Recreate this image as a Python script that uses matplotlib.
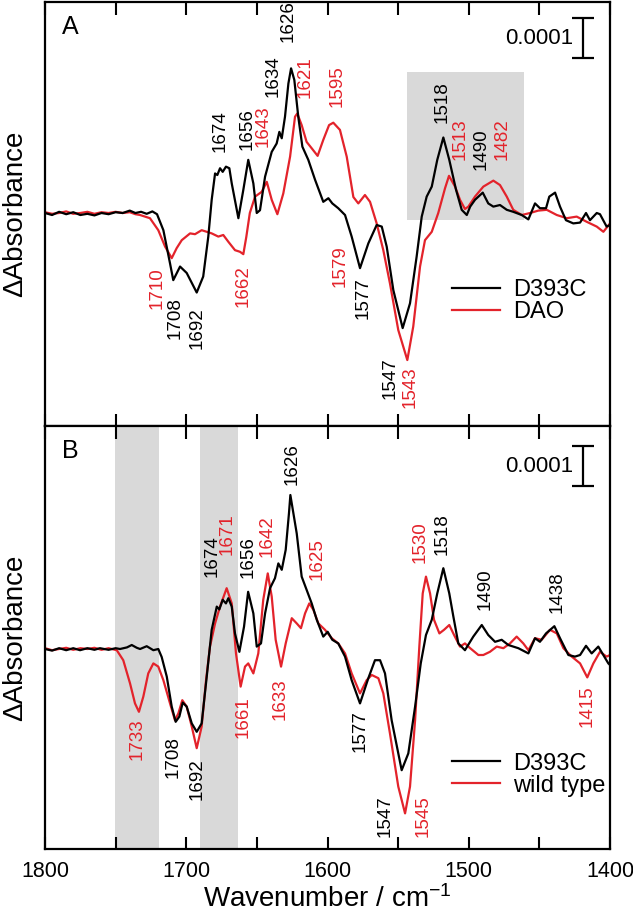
import numpy as np
import matplotlib.pyplot as plt

plt.rcParams['font.family'] = ['Liberation Sans', 'DejaVu Sans']
plt.rcParams['mathtext.default'] = 'regular'

RED = '#e3232b'
GRAY = '#d9d9d9'

# difference spectra, values in units of 1e-4 absorbance
a_wn_d393c = [1800, 1795, 1790, 1785, 1780, 1775, 1770, 1765, 1760, 1755, 1750, 1745, 1740, 1736,
              1732, 1728, 1724, 1720.7, 1716.2, 1711.5, 1709.2, 1704.4, 1699.7, 1692.6, 1688, 1684.4,
              1682, 1679.6, 1678, 1676.1, 1674.2, 1671.9, 1669.5, 1667.8, 1663.1, 1659.6, 1656.1,
              1652.5, 1650.1, 1647.8, 1644.2, 1639.5, 1636, 1634.1, 1632.4, 1630.1, 1627.7, 1625.8,
              1623.5, 1620.7, 1617.8, 1613.6, 1608.8, 1603, 1599.4, 1596.6, 1592.4, 1587.6, 1582.9,
              1577, 1571.1, 1565.2, 1561.6, 1558.1, 1553.4, 1546.8, 1541.6, 1536.9, 1533.3, 1529.8,
              1526.2, 1522.3, 1518, 1513.8, 1509, 1505, 1501.4, 1499, 1495.6, 1490.1, 1486.2, 1482.6,
              1477.9, 1473.1, 1468.5, 1462.5, 1457.8, 1453.1, 1449.6, 1445.3, 1443, 1438.9, 1435.4,
              1431.2, 1426, 1421.2, 1417, 1414.2, 1409.4, 1407.1, 1402.4, 1400]
a_d393c = [0.0, -0.05, 0.03, -0.03, 0.02, -0.05, -0.02, -0.06, 0.0, -0.03, 0.02, 0.0, 0.06, 0.0,
           0.03, -0.02, 0.04, -0.03, -0.43, -1.26, -1.68, -1.34, -1.5, -1.99, -1.59, -0.59,
           0.33, 0.99, 0.95, 1.12, 1.03, 1.16, 1.12, 0.74, -0.13, 0.58, 1.33,
           0.74, 0.0, 0.07, 0.91, 1.53, 1.74, 2.03, 1.87, 2.41, 3.24, 3.62,
           3.33, 2.41, 1.66, 1.33, 0.83, 0.28, 0.37, 0.24, 0.12, -0.05, -0.59,
           -1.38, -0.76, -0.3, -0.34, -0.84, -1.93, -2.88, -2.26, -1.09, -0.09, 0.41,
           0.66, 1.33, 1.89, 1.33, 0.58, 0.08, -0.05, 0.16, 0.33, 0.51, 0.24, 0.16,
           0.2, 0.08, 0.03, -0.05, -0.16, 0.24, 0.12, 0.12, 0.41, 0.51, 0.16,
           -0.18, -0.26, -0.24, 0.0, -0.18, 0.0, -0.03, -0.34, -0.3]

a_wn_dao = [1800, 1795, 1790, 1785, 1780, 1775, 1770, 1765, 1760, 1755, 1750, 1745, 1740, 1736,
            1732.7, 1725.7, 1719.8, 1715, 1710.3, 1706.8, 1703.2, 1697.3, 1693.8, 1689.1, 1685.5,
            1682, 1677.3, 1673.8, 1670.2, 1665.5, 1662, 1659.6, 1657.5, 1655, 1651.3, 1646.6, 1643,
            1639.5, 1635.5, 1631.3, 1626.5, 1623, 1621.4, 1618.3, 1614.8, 1611.2, 1607, 1603,
            1598.9, 1595.9, 1591.2, 1586.4, 1581.7, 1578.2, 1573.5, 1569.9, 1565.2, 1560.5, 1555.8,
            1549.9, 1543.5, 1539.3, 1534.5, 1531, 1526.2, 1521.6, 1516.8, 1514, 1509.7, 1506.2,
            1502.7, 1500.3, 1495.6, 1489.7, 1482.6, 1477.9, 1473.1, 1468.5, 1462.5, 1456.6, 1450.8,
            1444.8, 1437.7, 1430.6, 1423.6, 1416.5, 1409.4, 1404.7, 1400]
a_dao = [0.02, -0.02, 0.0, 0.04, -0.02, 0.0, 0.03, -0.02, 0.02, 0.0, 0.03, 0.0, 0.02, -0.03,
         -0.05, -0.13, -0.43, -0.84, -1.13, -0.88, -0.68, -0.51, -0.53, -0.43, -0.47,
         -0.51, -0.59, -0.55, -0.72, -0.93, -0.97, -1.03, -0.6, 0.0, 0.41, 0.53, 0.78,
         0.33, -0.03, 0.49, 1.41, 2.41, 2.49, 2.2, 1.78, 1.62, 1.43, 1.83,
         2.2, 2.26, 2.08, 1.41, 0.4, 0.24, 0.45, 0.28, -0.26, -0.93, -1.76,
         -2.93, -3.68, -2.84, -1.34, -0.68, -0.47, 0.0, 0.62, 0.93, 0.66, 0.33,
         0.1, 0.16, 0.41, 0.66, 0.81, 0.7, 0.41, 0.08, -0.05, 0.0, 0.06,
         0.08, -0.05, -0.13, -0.09, -0.22, -0.34, -0.47, -0.26]

b_wn_d393c = [1800, 1795, 1790, 1785, 1780, 1775.2, 1770, 1765, 1761.1, 1755, 1750, 1746.9, 1742,
              1738.6, 1735, 1732.7, 1728, 1723.3, 1719.8, 1717.4, 1713.8, 1710.3, 1707.5, 1704.9,
              1702.5, 1699.7, 1696.1, 1692.6, 1689.1, 1685.5, 1682, 1678.4, 1676.6, 1674.2, 1671.9,
              1670.2, 1667.8, 1665.5, 1662.4, 1659.1, 1656.2, 1652.5, 1650.1, 1647.1, 1644.2, 1640.7,
              1637.2, 1634.8, 1632.4, 1629.6, 1627.3, 1626.3, 1621.8, 1618.3, 1614.8, 1611.2, 1607.6,
              1603, 1599.9, 1596.6, 1592.4, 1587.6, 1582.9, 1577, 1571.1, 1566.4, 1562.8, 1559.3,
              1554.6, 1547.5, 1542.8, 1538, 1534, 1530.3, 1526.2, 1522.3, 1518, 1513.8, 1510.9,
              1507.4, 1502.7, 1496.8, 1490.8, 1486.2, 1481.4, 1476.7, 1472, 1464.9, 1457.8, 1453.1,
              1449.6, 1445.3, 1439.4, 1435.4, 1429.5, 1424.8, 1421.2, 1417, 1413, 1408.3, 1401.2, 1400]
b_d393c = [0.0, -0.04, 0.02, -0.03, 0.02, -0.03, 0.02, -0.02, 0.02, -0.02, 0.02, 0.0, 0.04,
           0.1, 0.03, 0.0, 0.07, -0.03, 0.0, -0.2, -0.69, -1.44, -1.82, -1.69,
           -1.34, -1.44, -1.86, -2.07, -1.86, -0.69, 0.48, 1.06, 0.99, 1.23, 1.14,
           1.27, 1.06, 0.39, -0.07, 0.56, 1.43, 0.89, 0.06, 0.14, 0.89, 1.52,
           1.77, 2.14, 1.98, 2.48, 3.39, 3.85, 2.89, 1.81, 1.48, 1.14, 0.73,
           0.31, 0.43, 0.23, 0.14, -0.19, -0.78, -1.36, -0.73, -0.28, -0.28, -0.61,
           -1.78, -3.03, -2.61, -1.44, -0.36, 0.35, 0.73, 1.39, 2.02, 1.39, 0.81,
           0.14, -0.03, 0.31, 0.6, 0.35, 0.18, 0.23, 0.1, 0.02, -0.11, 0.27,
           0.18, 0.39, 0.57, 0.27, -0.15, -0.19, -0.15, 0.08, -0.11, 0.06, -0.36, -0.4]

b_wn_wt = [1800, 1795, 1790, 1785, 1780, 1775, 1770, 1765, 1760, 1755, 1749.2, 1744.6, 1739.8,
           1736.3, 1733.5, 1730.4, 1726.9, 1723.3, 1719.8, 1716.2, 1711.5, 1708, 1705.6, 1702.8,
           1699.7, 1696.1, 1692.6, 1689.1, 1686, 1683.2, 1679.6, 1676.1, 1671.4, 1667.8, 1664.8,
           1661.5, 1658.4, 1656.1, 1652.5, 1649, 1645.5, 1642.3, 1639.5, 1636.7, 1632.9, 1629.6,
           1625.3, 1621.8, 1618.8, 1615.9, 1612.9, 1610, 1606.5, 1601.8, 1597, 1592.4, 1587.6,
           1582.9, 1577, 1572.3, 1568.7, 1564, 1560.5, 1555.8, 1549.9, 1545.1, 1541.6, 1538, 1535,
           1532.6, 1530.3, 1527.4, 1524.6, 1520.8, 1517.5, 1513.8, 1510.4, 1506.2, 1502.7, 1499,
           1493.2, 1489.7, 1485, 1480.2, 1475.5, 1470.8, 1466.1, 1461.4, 1457.8, 1453.1, 1448.4,
           1442.5, 1437.7, 1433, 1427.1, 1421.2, 1416.1, 1411.8, 1407.1, 1402.4, 1400]
b_wt = [0.02, -0.03, 0.0, 0.03, -0.02, 0.02, 0.0, 0.03, -0.02, 0.02, -0.03, -0.28, -0.86,
        -1.36, -1.57, -1.19, -0.61, -0.36, -0.44, -0.78, -1.36, -1.78, -1.61, -1.28,
        -1.44, -1.94, -2.48, -1.94, -0.78, 0.06, 0.64, 1.06, 1.52, 1.14, -0.11,
        -0.94, -0.44, -0.36, -0.61, -0.11, 1.23, 1.89, 1.31, 0.23, -0.44, 0.14,
        0.77, 0.64, 0.52, 0.89, 1.14, 0.98, 0.64, 0.48, 0.27, 0.14, -0.11,
        -0.61, -1.11, -0.78, -0.65, -0.73, -1.11, -2.11, -3.44, -4.11, -3.44, -1.78, 0.06,
        1.39, 1.81, 1.39, 0.73, 0.39, 0.48, 0.6, 0.35, 0.06, 0.14, 0.02,
        -0.15, -0.15, -0.07, 0.06, 0.02, 0.14, 0.31, 0.14, -0.03, 0.27, 0.23,
        0.48, 0.39, 0.02, -0.19, -0.36, -0.71, -0.36, -0.07, -0.19, -0.15]

# peak labels: text, wavenumber, y, colour, vertical alignment
a_labels = [('1710', 1720.7, -1.35, RED, 'top'), ('1708', 1708, -2.1, 'k', 'top'),
            ('1692', 1692.4, -2.35, 'k', 'top'), ('1662', 1659.6, -1.3, RED, 'top'),
            ('1674', 1676.1, 1.53, 'k', 'bottom'), ('1656', 1657.2, 1.58, 'k', 'bottom'),
            ('1643', 1645.4, 1.65, RED, 'bottom'), ('1634', 1638.4, 2.9, 'k', 'bottom'),
            ('1626', 1627.8, 4.28, 'k', 'bottom'), ('1621', 1616, 2.88, RED, 'bottom'),
            ('1595', 1593.5, 2.65, RED, 'bottom'), ('1579', 1591.2, -0.8, RED, 'top'),
            ('1577', 1574.7, -1.6, 'k', 'top'), ('1547', 1555.8, -3.6, 'k', 'top'),
            ('1543', 1541.6, -3.85, RED, 'top'), ('1518', 1519.2, 2.25, 'k', 'bottom'),
            ('1513', 1506.2, 1.33, RED, 'bottom'), ('1490', 1491, 1.08, 'k', 'bottom'),
            ('1482', 1476.5, 1.33, RED, 'bottom')]
b_labels = [('1733', 1735.1, -1.73, RED, 'top'), ('1708', 1709.2, -2.19, 'k', 'top'),
            ('1692', 1692.6, -2.73, 'k', 'top'), ('1674', 1682, 1.81, 'k', 'bottom'),
            ('1671', 1671.4, 2.35, RED, 'bottom'), ('1656', 1656.1, 1.77, 'k', 'bottom'),
            ('1661', 1659.6, -1.19, RED, 'top'), ('1642', 1643, 2.31, RED, 'bottom'),
            ('1633', 1633.6, -0.73, RED, 'top'), ('1626', 1625.3, 4.1, 'k', 'bottom'),
            ('1625', 1607.6, 1.73, RED, 'bottom'), ('1577', 1577, -1.53, 'k', 'top'),
            ('1547', 1559.3, -3.65, 'k', 'top'), ('1545', 1532, -3.65, RED, 'top'),
            ('1530', 1534.5, 2.14, RED, 'bottom'), ('1518', 1519.2, 2.35, 'k', 'bottom'),
            ('1490', 1488.5, 0.98, 'k', 'bottom'), ('1438', 1437.7, 0.89, 'k', 'bottom'),
            ('1415', 1416.5, -0.9, RED, 'top')]

fig = plt.figure(figsize=(6.33, 9.13), dpi=100)
axA = fig.add_axes([0.0711, 0.5334, 0.8926, 0.4644])
axB = fig.add_axes([0.0711, 0.0701, 0.8926, 0.4633])

# shaded regions
axA.fill_between([1543.5, 1460.7], -0.18, 3.53, color=GRAY, lw=0, zorder=0)
axB.axvspan(1719.1, 1750.4, color=GRAY, lw=0, zorder=0)
axB.axvspan(1663.6, 1690.3, color=GRAY, lw=0, zorder=0)

axA.plot(a_wn_d393c, a_d393c, color='k', lw=1.6, label='D393C', zorder=3)
axA.plot(a_wn_dao, a_dao, color=RED, lw=1.6, label='DAO', zorder=2)
axB.plot(b_wn_d393c, b_d393c, color='k', lw=1.6, label='D393C', zorder=3)
axB.plot(b_wn_wt, b_wt, color=RED, lw=1.6, label='wild type', zorder=2)

for ax, labels in [(axA, a_labels), (axB, b_labels)]:
    for txt, x, y, c, va in labels:
        ax.text(x, y, txt, color=c, rotation=90, ha='center', va=va, fontsize=13.5)

axA.set_ylim(-5.33, 5.28)
axB.set_ylim(-5.0, 5.575)

for ax, letter, bar_y, legy in [(axA, 'A', 4.37, 0.347), (axB, 'B', 4.57, 0.228)]:
    ax.set_xlim(1800, 1400)
    ax.set_xticks([1800, 1700, 1600, 1500, 1400])
    ax.set_xticks([1750, 1650, 1550, 1450], minor=True)
    ax.set_yticks([])
    ax.tick_params(which='both', direction='in', top=True, length=9, width=1.5,
                   labelsize=15.5, pad=9)
    for s in ax.spines.values():
        s.set_linewidth(1.6)
    ax.set_ylabel('\u0394Absorbance', fontsize=20, labelpad=12)
    ax.text(0.0455, 0.94, letter, transform=ax.transAxes, ha='center', va='center', fontsize=18)
    # scale bar 0.0001
    ax.errorbar(1418.9, bar_y, yerr=0.5, fmt='none', ecolor='k', elinewidth=1.6,
                capsize=8, capthick=1.6)
    ax.text(1426, bar_y, '0.0001', ha='right', va='center', fontsize=16)
    ax.legend(loc='upper left', bbox_to_anchor=(0.72, legy), frameon=False, fontsize=17,
              handlelength=2.05, handletextpad=0.55, labelspacing=0.0, borderpad=0,
              borderaxespad=0)

axA.tick_params(labelbottom=False)
axB.set_xlabel('Wavenumber / cm$^{-1}$', fontsize=20, labelpad=2)

fig.savefig('out.png', dpi=100)
